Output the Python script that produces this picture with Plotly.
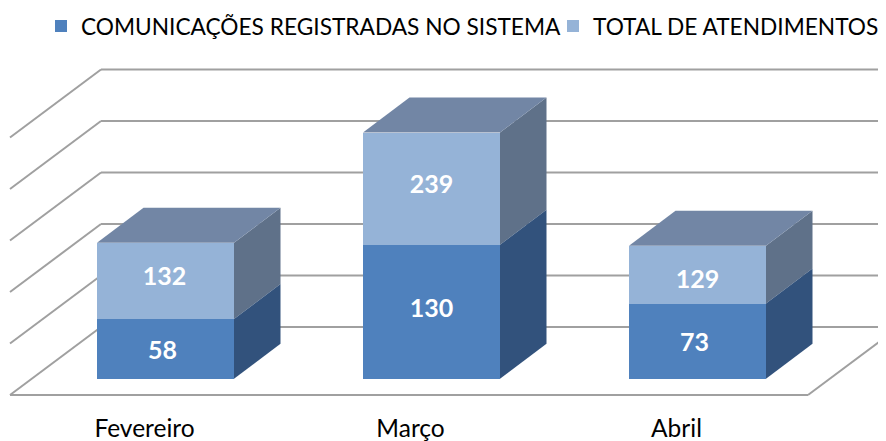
import plotly.graph_objects as go

categories = ["Fevereiro", "Março", "Abril"]
comunicacoes = [58, 130, 73]
atendimentos = [132, 239, 129]
axis_ticks = [0, 50, 100, 150, 200, 250]
series_names = ["COMUNICAÇÕES REGISTRADAS NO SISTEMA", "TOTAL DE ATENDIMENTOS"]

PAGE = 8           # the page's own margin in front of the figure
W, H = 886 - PAGE, 441 - PAGE
PX_X = 266.0       # px per category
PX_Y = 1.03        # px per value unit
X0_PX = 165.5      # px of first category
Y0_PX = 378.7      # px of value 0 on the bars' front plane
TOP = PAGE
BOTTOM = 411
FONT = "Lato"

bar_w = 137 / PX_X
dx, dy = 46.5 / PX_X, 35 / PX_Y
wall_dx, wall_dy = 91 / PX_X, 66.0
floor_left = (10 - X0_PX) / PX_X
floor_right = (808 - X0_PX) / PX_X
floor_y = (Y0_PX - 395) / PX_Y

xs = list(range(len(categories)))
fig = go.Figure()

fig.add_bar(x=xs, y=atendimentos, width=bar_w, marker=dict(color="#95B3D7", line_width=0),
            name=series_names[1], legend="legend2")
fig.add_bar(x=xs, y=comunicacoes, width=bar_w, marker=dict(color="#4F81BD", line_width=0),
            name=series_names[0], legend="legend")


def face(xv, yv, color):
    fig.add_scatter(x=xv, y=yv, mode="lines", fill="toself", fillcolor=color,
                    line=dict(width=0, color=color), showlegend=False, hoverinfo="skip")


for i, (c, t) in enumerate(zip(comunicacoes, atendimentos)):
    l, r = i - bar_w / 2, i + bar_w / 2
    face([r, r + dx, r + dx, r, r], [c, c + dy, t + dy, t, c], "#5F7189")
    face([l, l + dx, r + dx, r, l], [t, t + dy, t + dy, t, t], "#7286A5")
    face([r, r + dx, r + dx, r, r], [0, dy, c + dy, c, 0], "#32527C")

# data labels
label_nudge_x = [[-3, 0, -3], [-1, 0, 0]]
label_nudge_y = [[-4, 1, -4], [2, 2, -7]]
for s, vals in enumerate([comunicacoes, atendimentos]):
    lows = [0] * 3 if s == 0 else comunicacoes
    fig.add_scatter(
        x=[i + label_nudge_x[s][i] / PX_X for i in xs],
        y=[(v if s == 0 else v + lows[i]) / 2 + label_nudge_y[s][i] for i, v in enumerate(vals)],
        mode="text", text=[str(v) for v in vals], textposition="middle center",
        textfont=dict(family=FONT, size=25, color="white", weight="bold"),
        showlegend=False, hoverinfo="skip")

# 3-D walls
grid = dict(color="#A0A0A0", width=2)
wall_left = floor_left + wall_dx
wall_right = floor_right + wall_dx
shapes = []
for t in axis_ticks:
    shapes.append(dict(type="line", layer="below", x0=floor_left, x1=wall_left,
                       y0=floor_y + t, y1=floor_y + wall_dy + t, line=grid))
    shapes.append(dict(type="line", layer="below", x0=wall_left, x1=wall_right,
                       y0=floor_y + wall_dy + t, y1=floor_y + wall_dy + t, line=grid))
shapes.append(dict(type="line", layer="below", x0=floor_left, x1=floor_right,
                   y0=floor_y, y1=floor_y, line=grid))
shapes.append(dict(type="line", layer="below", x0=floor_right, x1=wall_right,
                   y0=floor_y, y1=floor_y + wall_dy, line=grid))

legend_common = dict(orientation="h", xanchor="left", y=1.008, yanchor="top",
                     font=dict(family=FONT, size=22.7, color="black"), bgcolor="rgba(0,0,0,0)")
fig.update_layout(
    width=W, height=H, autosize=False, barmode="overlay", bargap=0,
    margin=dict(l=0, r=0, t=0, b=441 - BOTTOM, autoexpand=False),
    paper_bgcolor="white", plot_bgcolor="white",
    font=dict(family=FONT, size=24.5, color="black"),
    shapes=shapes,
    showlegend=True,
    legend=dict(x=(41 - PAGE) / W, **legend_common),
    legend2=dict(x=(553 - PAGE) / W, **legend_common),
    xaxis=dict(range=[(PAGE - X0_PX) / PX_X, (886 - X0_PX) / PX_X], showgrid=False, zeroline=False,
               showline=False, ticks="", tickmode="array", automargin=False,
               tickvals=[i - 21 / PX_X for i in xs], ticktext=categories,
               tickfont=dict(family=FONT, size=24.5, color="black")),
    yaxis=dict(range=[(Y0_PX - BOTTOM) / PX_Y, (Y0_PX - TOP) / PX_Y], showgrid=False, zeroline=False,
               showline=False, showticklabels=False, ticks="", automargin=False),
)
fig.write_html("out.html")
